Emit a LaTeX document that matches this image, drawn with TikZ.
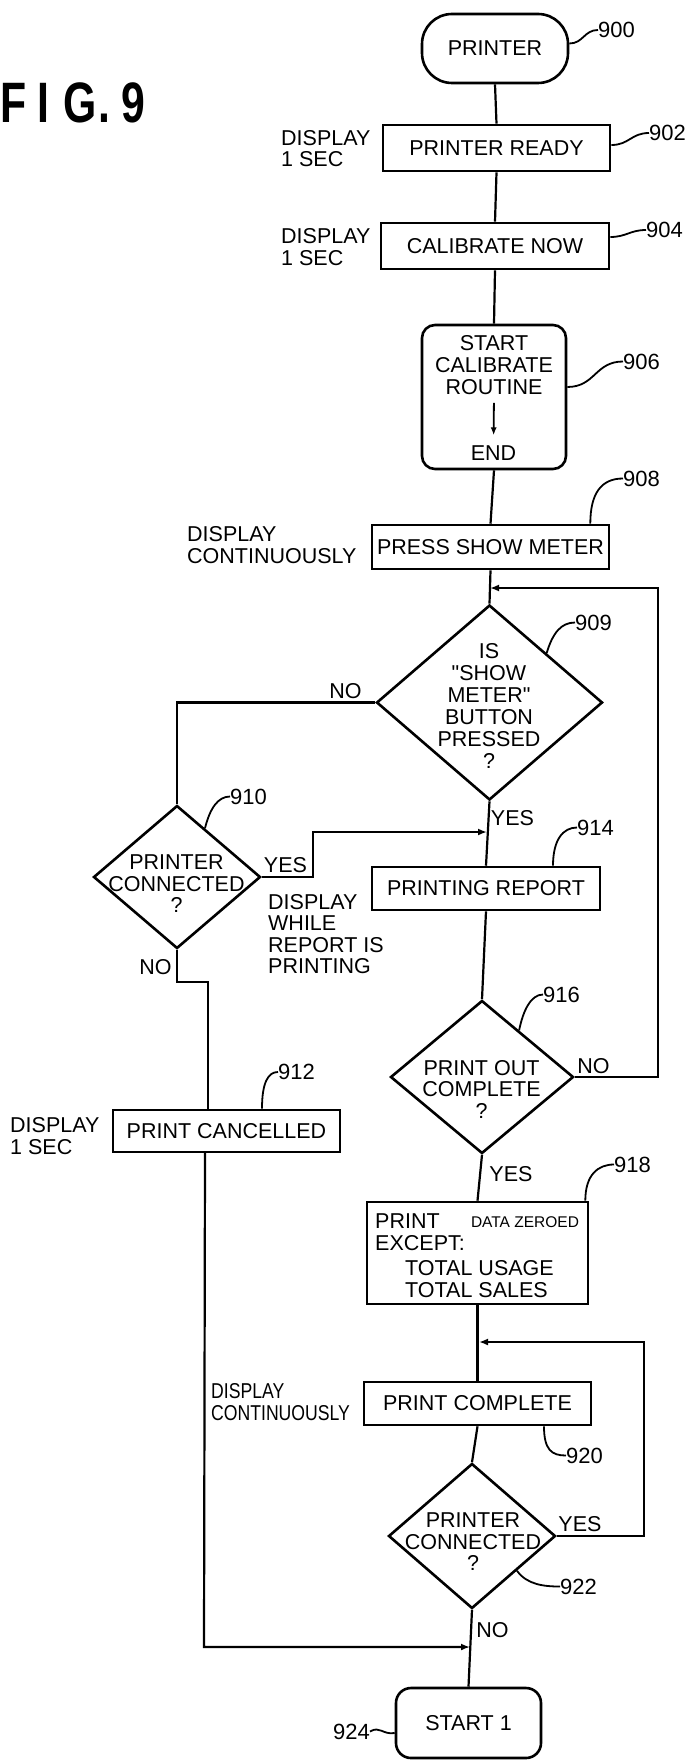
\documentclass[tikz,border=0pt]{standalone}
\usepackage{fontspec}
\setmainfont{Liberation Sans}
\newfontfamily\myqf{Liberation Sans}[Ligatures=TeXOff]
\usetikzlibrary{shapes.geometric,arrows.meta,calc}
\newcommand{\myfs}{\fontsize{21.5}{21.5}\selectfont}
\newcommand{\myfsw}{\fontsize{21.5}{22}\selectfont}
\newcommand{\mylabfs}{\fontsize{22}{22}\selectfont}
\newcommand{\mysmfs}{\fontsize{15.5}{15.5}\selectfont}
\newcommand{\myfigfs}{\fontsize{57}{57}\selectfont\bfseries}
\newcommand{\myquote}{{\myqf\char34\relax}}
\begin{document}
\begin{tikzpicture}[x=1pt,y=-1pt,
  box/.style={draw, line width=2.6pt, inner sep=0pt, font=\myfs},
  dia/.style={draw, diamond, line width=2.6pt, inner sep=0pt},
  txt/.style={inner sep=0pt, align=center, font=\myfs},
  txtl/.style={inner sep=0pt, align=left, font=\myfs, anchor=west},
  lab/.style={inner sep=0pt, font=\mylabfs, anchor=west},
  ln/.style={line width=2.2pt},
  lead/.style={line width=1.8pt},
  arr/.style={line width=2.2pt, -{Latex[length=9pt,width=7pt]}}]
\path[use as bounding box, fill=white] (0,0) rectangle (694,1763);

% title
\begin{scope}[shift={(0,123)},xscale=0.75]
\node[transform shape, anchor=base west, inner sep=0pt, font=\myfigfs] (fig) at (0,0) {F\kern15pt I\kern18.5pt G\kern2.4pt .\kern15pt 9};
\end{scope}

% main nodes
\node[box, rounded corners=30pt, minimum width=146pt, minimum height=69pt] (n900) at (495,48.5) {PRINTER};
\node[box, minimum width=227pt, minimum height=46pt] (n902) at (496.5,148) {PRINTER READY};
\node[box, minimum width=228pt, minimum height=46pt] (n904) at (495,246) {CALIBRATE NOW};
\node[box, rounded corners=13pt, minimum width=144pt, minimum height=144pt] (n906) at (494,397) {};
\node[txt, font=\myfsw] (t906a) at (494,365) {START\\CALIBRATE\\ROUTINE};
\node[txt] (t906b) at (493.5,453) {END};
\node[box, minimum width=237pt, minimum height=44pt] (n908) at (490.5,547) {PRESS SHOW METER};
\node[dia, minimum width=226pt, minimum height=195pt] (d909) at (489.5,702.5) {};
\node[txt, font=\myfsw] (t909) at (489,706) {IS\\\myquote SHOW\\METER\myquote\\BUTTON\\PRESSED\\?};
\node[dia, minimum width=167pt, minimum height=143pt] (d910) at (177,877) {};
\node[txt] (t910) at (176.5,884) {PRINTER\\CONNECTED\\?};
\node[box, minimum width=228pt, minimum height=43pt] (n914) at (486,888.5) {PRINTING REPORT};
\node[dia, minimum width=183pt, minimum height=153pt] (d916) at (482,1077) {};
\node[txt] (t916) at (481.5,1089) {PRINT OUT\\COMPLETE\\?};
\node[box, minimum width=227pt, minimum height=42pt] (n912) at (226.5,1131) {PRINT CANCELLED};
\node[box, minimum width=221pt, minimum height=102pt] (n918) at (477.5,1253) {};
\node[txtl, font=\myfsw] (t918a) at (375,1232) {PRINT\\EXCEPT:};
\node[inner sep=0pt, font=\mysmfs] (t918b) at (525,1222) {DATA ZEROED};
\node[txtl, font=\myfsw] (t918c) at (405,1279) {TOTAL USAGE\\TOTAL SALES};
\node[box, minimum width=227pt, minimum height=43pt] (n920) at (477.5,1403.5) {PRINT COMPLETE};
\node[dia, minimum width=167pt, minimum height=145pt] (d922) at (472,1536) {};
\node[txt] (t922) at (473,1542) {PRINTER\\CONNECTED\\?};
\node[box, rounded corners=15pt, minimum width=145pt, minimum height=70pt] (n924) at (468.5,1723) {START 1};

% side notes
\node[txtl] (s902) at (281,148.5) {DISPLAY\\1 SEC};
\node[txtl] (s904) at (281,247) {DISPLAY\\1 SEC};
\node[txtl] (s908) at (187,545) {DISPLAY\\CONTINUOUSLY};
\node[txtl] (s914) at (268,934) {DISPLAY\\WHILE\\REPORT IS\\PRINTING};
\node[txtl] (s912) at (10,1136) {DISPLAY\\1 SEC};
\begin{scope}[shift={(211,1402)},xscale=0.82]
\node[txtl, transform shape] (s920) at (0,0) {DISPLAY\\CONTINUOUSLY};
\end{scope}

% branch labels
\node[txt] (b1) at (345.5,691.5) {NO};
\node[txt] (b2) at (512.5,818.5) {YES};
\node[txt] (b3) at (285.5,865.5) {YES};
\node[txt] (b4) at (155.5,967) {NO};
\node[txt] (b5) at (593.5,1066.5) {NO};
\node[txt] (b6) at (511,1174.5) {YES};
\node[txt] (b7) at (580,1524.5) {YES};
\node[txt] (b8) at (492.5,1630.5) {NO};

% reference numerals
\node[lab] (l900) at (598,30) {900};
\node[lab] (l902) at (649,133) {902};
\node[lab] (l904) at (646,230) {904};
\node[lab] (l906) at (623,361.5) {906};
\node[lab] (l908) at (623,478.5) {908};
\node[lab] (l909) at (575,622.5) {909};
\node[lab] (l910) at (230,796.5) {910};
\node[lab] (l914) at (577,827.5) {914};
\node[lab] (l916) at (543,994.5) {916};
\node[lab] (l912) at (278,1072) {912};
\node[lab] (l918) at (614,1164.5) {918};
\node[lab] (l920) at (566,1455.5) {920};
\node[lab] (l922) at (560,1586.5) {922};
\node[lab, anchor=east] (l924) at (370,1731.5) {924};

% coordinates
\coordinate (j909) at (490,588);
\coordinate (r909) at (658,588);
\coordinate (c910) at (313,877);
\coordinate (j914) at (487,832);
\coordinate (c910b) at (208,982);
\coordinate (c912t) at (208,1110);
\coordinate (c912b) at (205,1152);
\coordinate (c924) at (204,1647);
\coordinate (j924) at (470,1647);
\coordinate (j918) at (479,1342);
\coordinate (r918) at (644,1342);

% connectors
\draw[ln] (n900.south) -- (n902.north);
\draw[ln] (n902.south) -- (n904.north);
\draw[ln] (n904.south) -- (n906.north);
\draw[ln] (n906.south) -- (n908.north);
\draw[ln] (n908.south) -- (d909.north);
\draw[ln] (d909.west) -| (d910.north);
\draw[ln] (d909.south) -- (n914.north);
\draw[arr] (d910.east) -- (c910) |- (j914);
\draw[ln] (n914.south) -- (d916.north);
\draw[arr] (d916.east) -| (r909) -- (j909);
\draw[ln] (d910.south) |- (c910b) -- (c912t);
\draw[ln] (d916.south) -- (n918.north);
\draw[ln] (n918.south) -- (n920.north);
\draw[ln] (n920.south) -- (d922.north);
\draw[arr] (d922.east) -| (r918) -- (j918);
\draw[ln] (d922.south) -- (n924.north);
\draw[arr] (c912b) -- (c924) -- (j924);
\draw[line width=1.8pt, -{Latex[length=8pt,width=6pt]}, shorten <=8pt, shorten >=10pt] (t906a.south) -- (t906b.north);

% leaders
\draw[lead] ($(n900.east)+(0,-5)$) .. controls ($(n900.east)+(14,-5)$) and ($(l900.west)+(-14,0)$) .. (l900.west);
\draw[lead] ($(n902.east)+(0,-3)$) .. controls ($(n902.east)+(18,-3)$) and ($(l902.west)+(-18,0)$) .. (l902.west);
\draw[lead] ($(n904.east)+(0,-9)$) .. controls ($(n904.east)+(16,-9)$) and ($(l904.west)+(-16,0)$) .. (l904.west);
\draw[lead] ($(n906.east)+(0,-10)$) .. controls ($(n906.east)+(28,-10)$) and ($(l906.west)+(-28,0)$) .. (l906.west);
\draw[lead] ($(n908.north east)+(-20,0)$) .. controls ($(n908.north east)+(-20,-30)$) and ($(l908.west)+(-22,0)$) .. (l908.west);
\draw[lead] (d909.north east) .. controls ($(d909.north east)+(6,-20)$) and ($(l909.west)+(-14,0)$) .. (l909.west);
\draw[lead] ($(d910.north)!0.33!(d910.east)$) .. controls ($($(d910.north)!0.33!(d910.east)$)+(5,-20)$) and ($(l910.west)+(-12,0)$) .. (l910.west);
\draw[lead] ($(n914.north)+(67,0)$) .. controls ($(n914.north)+(67,-26)$) and ($(l914.west)+(-14,0)$) .. (l914.west);
\draw[lead] ($(d916.north)!0.4!(d916.east)$) .. controls ($($(d916.north)!0.4!(d916.east)$)+(4,-20)$) and ($(l916.west)+(-12,0)$) .. (l916.west);
\draw[lead] ($(n912.north)+(35.5,0)$) .. controls ($(n912.north)+(35.5,-26)$) and ($(l912.west)+(-10,0)$) .. (l912.west);
\draw[lead] ($(n918.north east)+(-4,0)$) .. controls ($(n918.north east)+(-4,-26)$) and ($(l918.west)+(-16,0)$) .. (l918.west);
\draw[lead] ($(n920.south)+(66.5,0)$) .. controls ($(n920.south)+(66.5,24)$) and ($(l920.west)+(-14,0)$) .. (l920.west);
\draw[lead] ($(d922.east)!0.47!(d922.south)$) .. controls ($($(d922.east)!0.47!(d922.south)$)+(10,14)$) and ($(l922.west)+(-16,0)$) .. (l922.west);
\draw[lead] (l924.east) .. controls ($(l924.east)+(10,-6)$) and ($(n924.west)+(-12,12)$) .. ($(n924.west)+(0,10)$);
\end{tikzpicture}
\end{document}
